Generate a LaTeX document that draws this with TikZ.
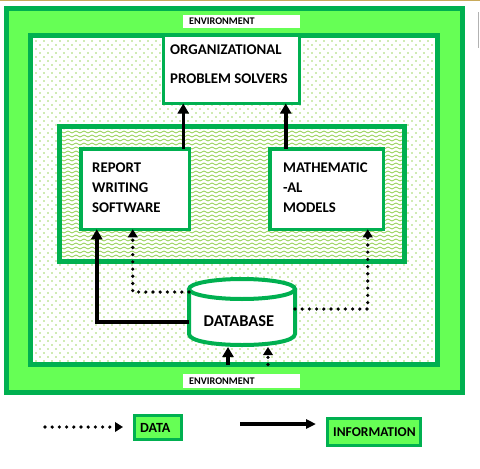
\documentclass[tikz,border=0pt]{standalone}
\usepackage{fontspec}
\setmainfont{Carlito}
\usetikzlibrary{arrows.meta,patterns}
\definecolor{dkg}{RGB}{0,176,80}
\definecolor{ltg}{RGB}{102,255,85}
\definecolor{pg}{RGB}{146,208,80}
\definecolor{topline}{RGB}{200,170,90}
\pgfdeclarepatternformonly{gdots}{\pgfpoint{-1pt}{-1pt}}{\pgfpoint{7pt}{7pt}}{\pgfpoint{8pt}{8pt}}{\pgfpathrectangle{\pgfpoint{-0.6pt}{-0.6pt}}{\pgfpoint{1.2pt}{1.2pt}}\pgfpathrectangle{\pgfpoint{3.4pt}{3.4pt}}{\pgfpoint{1.2pt}{1.2pt}}\pgfusepath{fill}}
\pgfdeclarepatternformonly{gzig}{\pgfpoint{-0.5pt}{-1pt}}{\pgfpoint{8.5pt}{3pt}}{\pgfpoint{8pt}{4pt}}{\pgfsetlinewidth{0.8pt}\pgfpathmoveto{\pgfpoint{0pt}{0pt}}\pgfpathlineto{\pgfpoint{4pt}{2pt}}\pgfpathlineto{\pgfpoint{8pt}{0pt}}\pgfusepath{stroke}}
\begin{document}
\begin{tikzpicture}[x=1pt,y=-1pt,
  frame/.style={draw=dkg, line width=5pt, inner sep=0pt, outer sep=0pt},
  box/.style={draw=dkg, line width=3.5pt, fill=white, inner sep=0pt, outer sep=0pt},
  lbl/.style={font=\bfseries\fontsize{14.8}{17}\selectfont, anchor=base west, inner sep=0pt},
  leglbl/.style={font=\bfseries\fontsize{13.5}{16}\selectfont, anchor=base west, inner sep=0pt},
  envbox/.style={fill=white, inner sep=0pt, outer sep=0pt, minimum width=117pt, minimum height=13pt},
  envtxt/.style={font=\bfseries\fontsize{10.2}{11}\selectfont, anchor=west, inner xsep=6pt, inner ysep=0pt},
  info/.style={line width=3.5pt, -{Triangle[width=11pt,length=10pt]}},
  data/.style={line width=3.6pt, line cap=round, dash pattern=on 0pt off 7.2pt, -{Triangle[width=9.5pt,length=8pt]}},
  legbox/.style={draw=dkg, line width=3pt, fill=ltg, inner sep=0pt, outer sep=0pt}]
\useasboundingbox (0,0) rectangle (480,469);
\draw[topline, line width=1pt] (0,0.5) -- (480,0.5);
\draw[gray!60, line width=1pt] (478.5,12) -- (478.5,48);
% environment frame
\node[frame, fill=ltg, minimum width=456pt, minimum height=384pt] (env) at (234.5,200.5) {};
\node[envbox] (envtop) at (241.5,21.5) {};
\node[envtxt] (envtoptxt) at (envtop.west) {ENVIRONMENT};
\node[envbox, minimum height=14pt] (envbot) at (241.5,381) {};
\node[envtxt] (envbottxt) at (envbot.west) {ENVIRONMENT};
% inner system
\node[frame, preaction={fill=white}, pattern=gdots, pattern color=pg, minimum width=407pt, minimum height=329pt] (inner) at (234,200) {};
\node[frame, preaction={fill=white}, pattern=gzig, pattern color=pg, minimum width=345pt, minimum height=135pt] (mid) at (232,194) {};
% boxes
\node[box, line width=3pt, minimum width=136pt, minimum height=68pt] (org) at (231.5,69.5) {};
\node[lbl] (orgt1) at (170,54) {ORGANIZATIONAL};
\node[lbl] (orgt2) at (170,83) {PROBLEM SOLVERS};
\node[box, minimum width=108.5pt, minimum height=80.5pt] (report) at (135,189) {};
\node[lbl] (rep1) at (92,172) {REPORT};
\node[lbl] (rep2) at (92,192) {WRITING};
\node[lbl] (rep3) at (92,212) {SOFTWARE};
\node[box, minimum width=113.5pt, minimum height=80.5pt] (math) at (326.5,189) {};
\node[lbl] (mat1) at (283,172) {MATHEMATIC};
\node[lbl] (mat2) at (283,192) {-AL};
\node[lbl] (mat3) at (283,212) {MODELS};
% database cylinder
\node[inner sep=0pt, outer sep=0pt, minimum width=106pt, minimum height=70pt] (db) at (242,312) {};
\draw[dkg, line width=4pt, fill=white] (189,289) -- (189,334) .. controls (189,348.67) and (295,348.67) .. (295,334) -- (295,289);
\draw[dkg, line width=4pt, fill=white] (242,289) ellipse [x radius=53, y radius=10];
\node[font=\bfseries\fontsize{16.5}{19}\selectfont, anchor=base, inner sep=0pt] (dbt) at (239,326) {DATABASE};
% connectors
\draw[info] ([xshift=-6pt]report.north east) -- ([xshift=-6pt]report.north east |- org.south);
\draw[info] ([xshift=16pt]math.north west) -- ([xshift=16pt]math.north west |- org.south);
\draw[info] ([yshift=-10pt]db.west) -| ([xshift=16pt]report.south west);
\draw[data] ([yshift=20pt]db.west) -| ([xshift=52pt]report.south west);
\draw[data] ([yshift=3pt]db.east) -| ([xshift=98pt]math.south west);
\draw[info] ([xshift=-14pt]db.south |- inner.south) -- ([xshift=-14pt]db.south);
\draw[data] ([xshift=26pt]db.south |- inner.south) -- ([xshift=26pt]db.south);
% legend
\coordinate (d1) at (45,427);
\coordinate (d2) at (123,427);
\draw[data] (d1) -- (d2);
\node[legbox, minimum width=47pt, minimum height=24pt] (ldata) at (158,427.5) {};
\node[leglbl, font=\bfseries\fontsize{14}{16}\selectfont] (ldatat) at (140,432) {DATA};
\coordinate (i1) at (240,424);
\coordinate (i2) at (316,424);
\draw[info, -{Triangle[width=9pt,length=10pt]}] (i1) -- (i2);
\node[legbox, minimum width=93pt, minimum height=27pt] (linfo) at (374,432) {};
\node[leglbl] (linfot) at (333,436) {INFORMATION};
\end{tikzpicture}
\end{document}
